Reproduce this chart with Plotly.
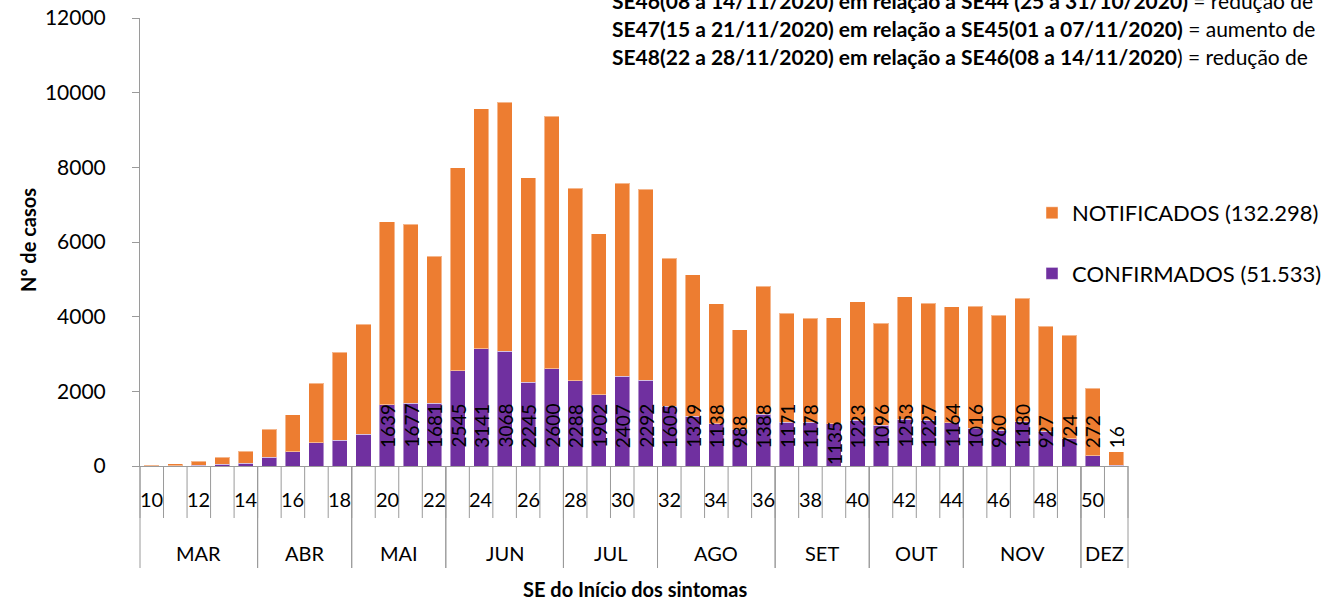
import plotly.graph_objects as go

# ---------------- data ----------------
semanas = [10, 11, 12, 13, 14, 15, 16, 17, 18, 19, 20, 21, 22, 23, 24, 25, 26, 27, 28, 29,
           30, 31, 32, 33, 34, 35, 36, 37, 38, 39, 40, 41, 42, 43, 44, 45, 46, 47, 48, 49,
           50, 51]
confirmados = [3, 5, 15, 45, 75, 240, 385, 625, 690, 857,
               1639, 1677, 1681, 2545, 3141, 3068, 2245, 2600, 2288, 1902,
               2407, 2292, 1605, 1329, 1138, 988, 1388, 1171, 1178, 1135,
               1223, 1096, 1253, 1227, 1164, 1016, 960, 1180, 927, 724,
               272, 16]
notificados = [24, 50, 110, 195, 325, 745, 985, 1590, 2355, 2938,
               4901, 4798, 3939, 5445, 6424, 6672, 5480, 6765, 5152, 4313,
               5168, 5118, 3960, 3796, 3202, 2657, 3427, 2919, 2777, 2830,
               3172, 2724, 3282, 3138, 3106, 3259, 3075, 3320, 2823, 2776,
               1808, 369]
primeira_semana_rotulada = 20
meses = ["MAR", "ABR", "MAI", "JUN", "JUL", "AGO", "SET", "OUT", "NOV", "DEZ"]
semanas_por_mes = [5, 4, 4, 5, 4, 5, 4, 4, 5, 2]
rotulos_semana = ["10", "12", "14", "16", "18", "20", "22", "24", "26", "28", "30",
                  "32", "34", "36", "38", "40", "42", "44", "46", "48", "50"]
nome_notificados = "NOTIFICADOS (132.298)"
nome_confirmados = "CONFIRMADOS (51.533)"
texto_topo = [
    ("SE46(08 a 14/11/2020) em relação a SE44 (25 a 31/10/2020)", " = redução de"),
    ("SE47(15 a 21/11/2020) em relação a SE45(01 a 07/11/2020)", " = aumento de"),
    ("SE48(22 a 28/11/2020) em relação a SE46(08 a 14/11/2020", ") = redução de"),
]

# ---------------- geometry ----------------
W, H = 1333, 603
L, R, T, B = 140, 1128, 18, 466
FONT = "Lato"
GREY = "#9a9a9a"
ORANGE = "#ED7D31"
PURPLE = "#7030A0"
xmin, xmax = semanas[0] - 0.5, semanas[-1] + 0.5


def px_x(p):
    return (p - L) / (R - L)


def px_y(p):
    return (B - p) / (B - T)


def data_x(v):
    return (v - xmin) / (xmax - xmin)


fig = go.Figure()
fig.add_trace(go.Bar(
    x=semanas, y=confirmados, name=nome_confirmados, legendgroup="c", legendrank=2,
    marker=dict(color=PURPLE, line=dict(color="rgba(255,255,255,0.45)", width=1)),
    width=0.64,
))
fig.add_trace(go.Bar(
    x=semanas, y=notificados, name=nome_notificados, legendgroup="n", legendrank=1,
    marker=dict(color=ORANGE, line=dict(color="rgba(255,255,255,0.45)", width=1)),
    width=0.64,
))

annotations = []
shapes = []

# data labels on confirmed
for s, v in zip(semanas, confirmados):
    if s < primeira_semana_rotulada:
        continue
    shift = 16 if v != 1135 else -1
    annotations.append(dict(
        x=s, y=0, xref="x", yref="y", text=str(v), textangle=-90,
        showarrow=False, xanchor="center", yanchor="bottom", yshift=shift,
        font=dict(family=FONT, size=19, color="black"),
    ))

# x-axis category ticks
tick_bottom = px_y(518)
sep_bottom = px_y(568)
for k in range(len(semanas) + 1):
    xv = data_x(xmin + k)
    shapes.append(dict(type="line", xref="paper", yref="paper", x0=xv, x1=xv,
                       y0=0, y1=tick_bottom, line=dict(color=GREY, width=1)))

# inner labels (every second week)
for lab in rotulos_semana:
    annotations.append(dict(
        x=int(lab), y=px_y(499), xref="x", yref="paper", text=lab, showarrow=False,
        xanchor="center", yanchor="middle", font=dict(family=FONT, size=20, color="black"),
    ))

# month groups
start = xmin
for m, n in zip(meses, semanas_por_mes):
    end = start + n
    for edge in (start, end):
        xv = data_x(edge)
        shapes.append(dict(type="line", xref="paper", yref="paper", x0=xv, x1=xv,
                           y0=0, y1=sep_bottom, line=dict(color=GREY, width=1)))
    annotations.append(dict(
        x=data_x((start + end) / 2), y=px_y(553), xref="paper", yref="paper", text=m,
        showarrow=False, xanchor="center", yanchor="middle",
        font=dict(family=FONT, size=20, color="black"),
    ))
    start = end

# axis titles
annotations.append(dict(
    x=px_x(635), y=px_y(589), xref="paper", yref="paper",
    text="<b>SE do Início dos sintomas</b>", showarrow=False,
    xanchor="center", yanchor="middle", font=dict(family=FONT, size=20, color="black"),
))
annotations.append(dict(
    x=px_x(28), y=px_y(240), xref="paper", yref="paper",
    text="<b>Nº de casos</b>", showarrow=False, textangle=-90,
    xanchor="center", yanchor="middle", font=dict(family=FONT, size=20, color="black"),
))

# top text lines (run past the right edge, as in the original)
for i, (bold, plain) in enumerate(texto_topo):
    annotations.append(dict(
        x=px_x(610), y=px_y(1 + 27.5 * i), xref="paper", yref="paper",
        text="<b>" + bold + "</b>" + plain, showarrow=False,
        xanchor="left", yanchor="middle", font=dict(family=FONT, size=21, color="black"),
    ))

fig.update_layout(
    width=W, height=H,
    margin=dict(l=L, r=W - R, t=T, b=H - B, pad=0, autoexpand=False),
    paper_bgcolor="white", plot_bgcolor="white",
    barmode="stack", bargap=0.36,
    showlegend=True,
    legend=dict(
        xref="container", yref="container",
        x=1032 / W, y=1 - 192 / H, xanchor="left", yanchor="top",
        traceorder="grouped", tracegroupgap=29,
        font=dict(family=FONT, size=22, color="black"),
        bgcolor="rgba(0,0,0,0)",
    ),
    xaxis=dict(range=[xmin, xmax], showticklabels=False, ticks="", showgrid=False,
               showline=True, linecolor=GREY, linewidth=1, zeroline=False, fixedrange=True,
               automargin=False),
    yaxis=dict(range=[0, 12000], dtick=2000, ticks="outside", ticklen=7, tickcolor=GREY,
               tickformat="d",
               showgrid=False, showline=True, linecolor=GREY, linewidth=1, zeroline=False,
               tickfont=dict(family=FONT, size=21, color="black"), ticklabelstandoff=22,
               automargin=False),
    annotations=annotations,
    shapes=shapes,
    font=dict(family=FONT),
)

fig.write_html(
    "out.html",
    config={"displayModeBar": False},
    post_script="document.body.style.margin='0';document.body.style.overflow='hidden';",
)
